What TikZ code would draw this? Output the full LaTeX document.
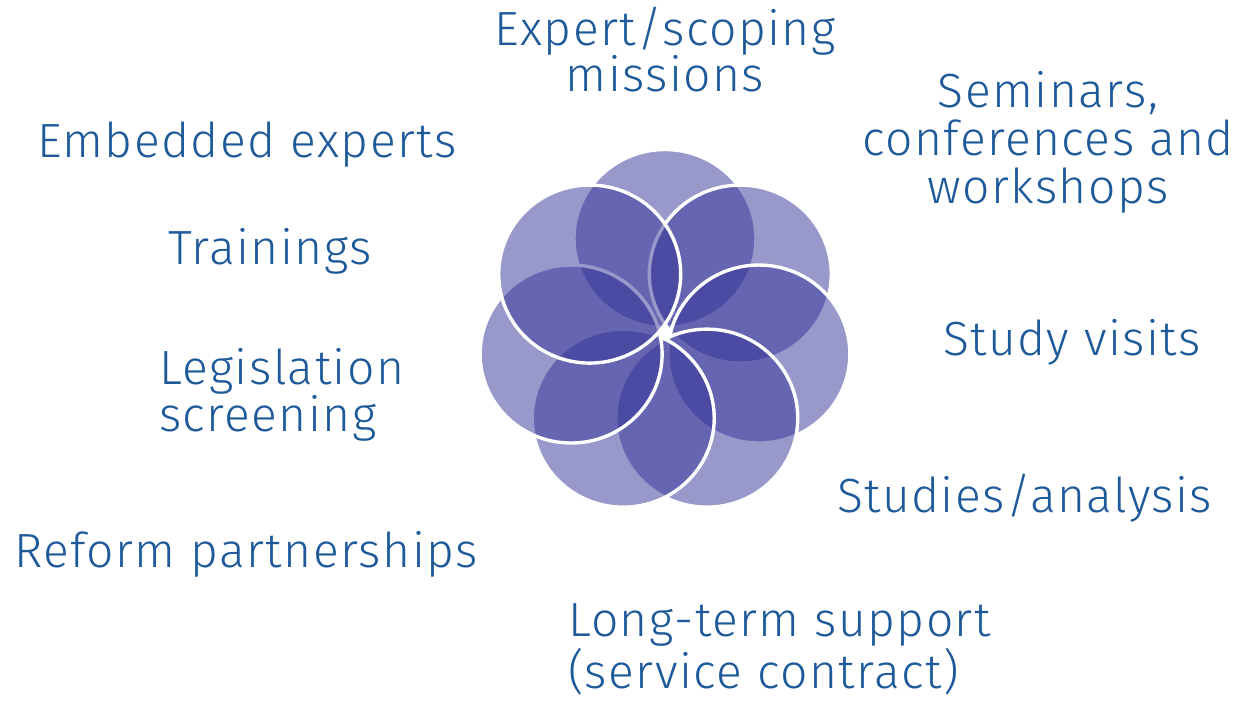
\documentclass[tikz,border=0pt]{standalone}
\usepackage{fontspec}
\IfFontExistsTF{Fira Sans Light}{\setmainfont{Fira Sans Light}[LetterSpace=3]}{\setmainfont{Fira Sans}[LetterSpace=3]}
\usetikzlibrary{calc,shapes.geometric}
\definecolor{petalblue}{HTML}{333399}
\definecolor{txtblue}{HTML}{1E5A9A}
\begin{document}
\begin{tikzpicture}[x=1pt,y=1pt,
  petal/.style={ellipse, inner sep=0pt, outer sep=0pt, minimum width=182pt, minimum height=178pt,
    fill=petalblue, fill opacity=0.5, draw=white, draw opacity=1, line width=3.4pt},
  lbl/.style={text=txtblue, inner sep=0pt, outer sep=0pt},
  big/.style={font=\fontsize{48}{48}\selectfont}]
\fill[white] (0,0) rectangle (1237,-701);
\useasboundingbox (0,0) rectangle (1237,-701);
\coordinate (ctr) at (665,-333);
\foreach \a/\n in {90/A, 38.57/C, -12.86/D, -64.29/E, -115.71/F, -167.14/G, 141.43/B} {
  \node[petal] (petal\n) at ($(ctr)+({96.3*cos(\a)},{94.5*sin(\a)})$) {};
}
% labels (base anchor = baseline of last line)
\node[lbl, anchor=base, align=center, font=\fontsize{48}{47}\selectfont] (missions) at (665,-92) {Expert/scoping\\missions};
\node[lbl, anchor=base, align=center, font=\fontsize{48}{48}\selectfont] (seminars) at (1048,-203) {Seminars,\\conferences and\\workshops};
\node[lbl, big, anchor=base west] (embedded) at (37,-157.5) {Embedded experts};
\node[lbl, big, anchor=base west] (trainings) at (168,-264) {Trainings};
\node[lbl, anchor=base west, align=left, font=\fontsize{48}{41}\selectfont] (legis) at (159,-431) {Legislation\\screening};
\node[lbl, big, anchor=base west] (reform) at (14,-567) {Reform partnerships};
\node[lbl, big, anchor=base west] (study) at (943,-355) {Study visits};
\node[lbl, big, anchor=base west] (studies) at (837,-512) {Studies/analysis};
\node[lbl, anchor=base west, align=left, font=\fontsize{48}{50}\selectfont] (longterm) at (568,-688) {Long-term support\\(service contract)};
\end{tikzpicture}
\end{document}
